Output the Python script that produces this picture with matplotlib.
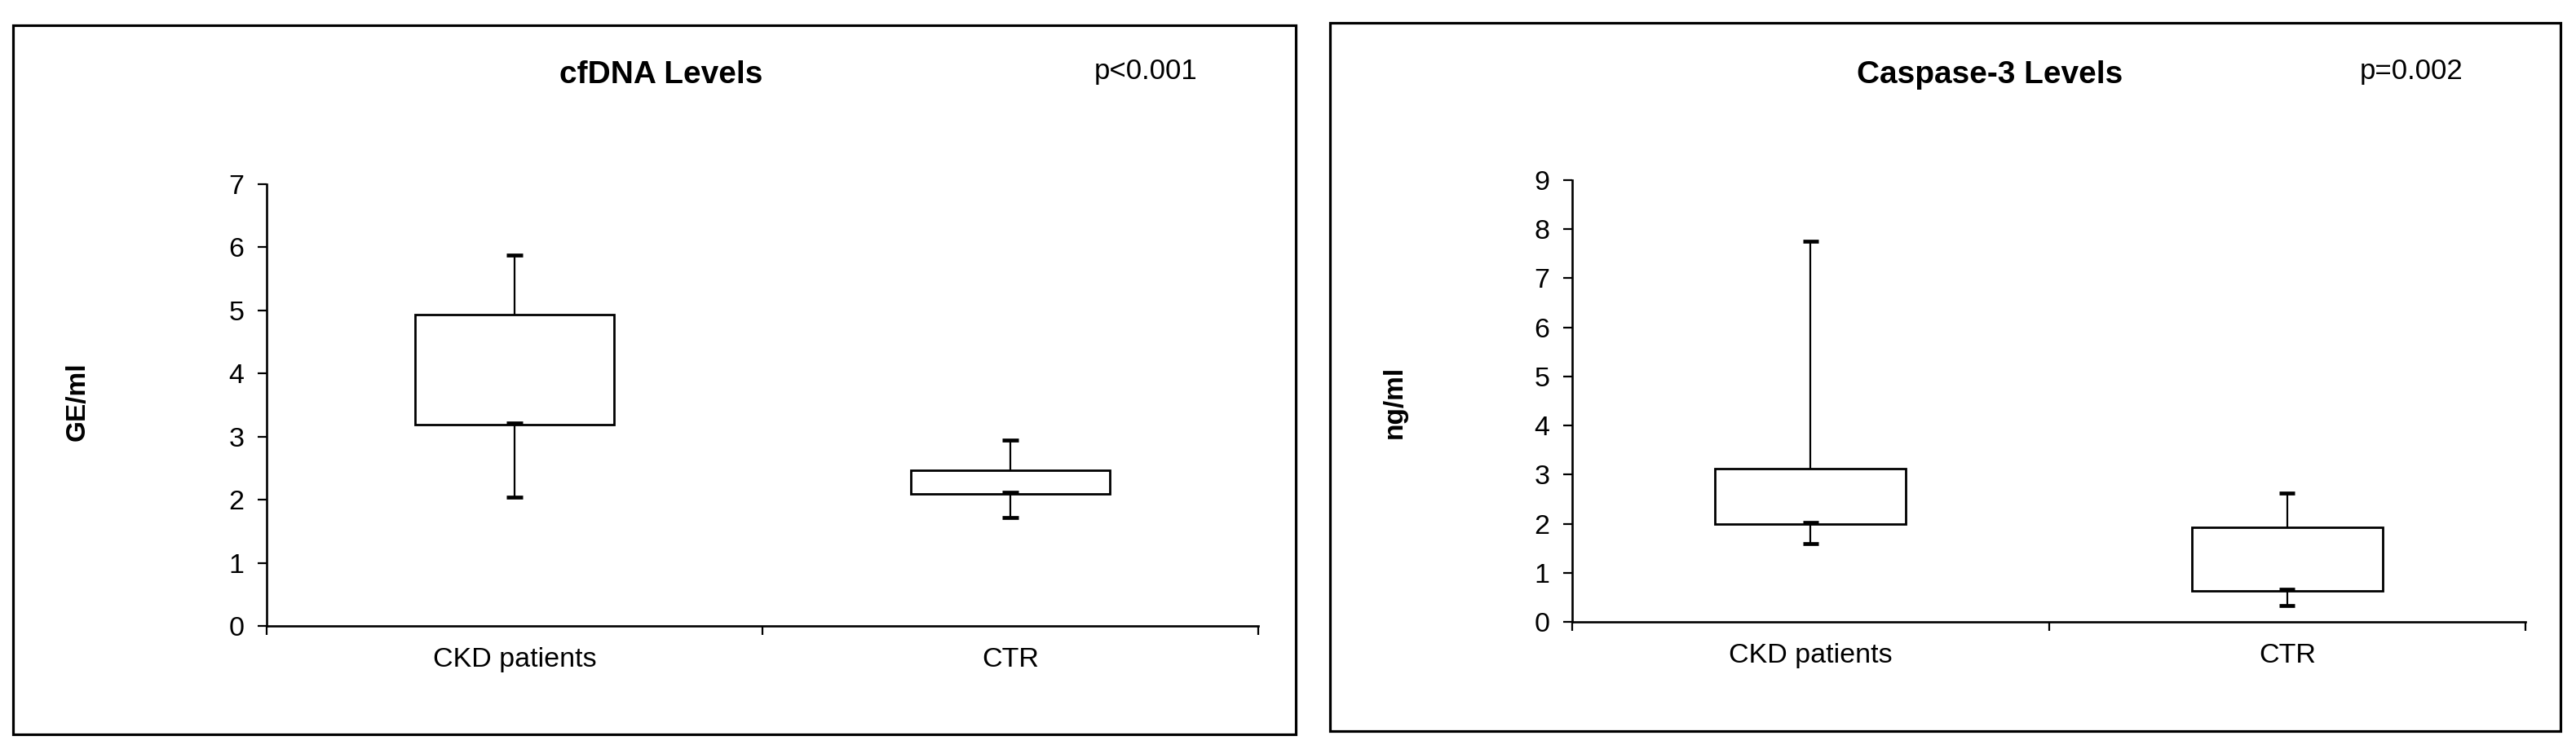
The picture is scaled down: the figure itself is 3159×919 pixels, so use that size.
import matplotlib
matplotlib.use('Agg')
import matplotlib.pyplot as plt
from matplotlib.patches import Rectangle

plt.rcParams['font.family'] = ['Liberation Sans', 'DejaVu Sans']

# data
groups = ['CKD patients', 'CTR']

cf_q1 = [3.19, 2.09]
cf_q3 = [4.94, 2.47]
cf_lo = [2.04, 1.72]
cf_hi = [5.88, 2.94]
cf_med = [3.21, 2.12]

casp_q1 = [2.00, 0.63]
casp_q3 = [3.12, 1.92]
casp_lo = [1.60, 0.33]
casp_hi = [7.75, 2.63]
casp_med = [2.03, 0.67]

fig = plt.figure(figsize=(31.59, 9.19), dpi=100)

# panel frames
for x0, y0, x1, y1 in [(16, 31, 1589, 901), (1631, 28, 3140, 897)]:
    fig.patches.append(Rectangle((x0 / 3159, 1 - y1 / 919), (x1 - x0) / 3159, (y1 - y0) / 919,
                                 transform=fig.transFigure, fill=False, edgecolor='black', linewidth=2.3))


def draw_panel(rect, q1, q3, lo, hi, med, ymax, title, pval, ylab, title_x, p_x, ylab_x):
    ax = fig.add_axes(rect)
    pos = [1, 2]
    heights = [b - a for a, b in zip(q1, q3)]
    ax.bar(pos, heights, bottom=q1, width=0.4, facecolor='white', edgecolor='black', linewidth=2.0, zorder=3)
    # whiskers
    ax.vlines(pos, q3, hi, color='black', linewidth=1.6, zorder=2)
    ax.vlines(pos, lo, q1, color='black', linewidth=1.6, zorder=2)
    # caps
    for p, a, b, m in zip(pos, lo, hi, med):
        ax.hlines([a, b, m], p - 0.016, p + 0.016, color='black', linewidth=3.4, zorder=4)

    ax.set_xlim(0.5, 2.5)
    ax.set_ylim(0, ymax)
    ax.set_yticks(range(0, ymax + 1))
    ax.set_xticks([0.5, 1.5, 2.5])
    ax.set_xticklabels([])
    ax.set_xticks(pos, minor=True)
    ax.set_xticklabels(groups, minor=True)
    ax.tick_params(axis='x', which='minor', length=0, pad=19, labelsize=24.5)
    ax.tick_params(axis='x', which='major', direction='out', length=8, width=1.6)
    ax.tick_params(axis='y', direction='out', length=8, width=1.6, pad=12, labelsize=24.5)
    for s in ['top', 'right']:
        ax.spines[s].set_visible(False)
    ax.spines['left'].set_linewidth(1.9)
    ax.spines['bottom'].set_linewidth(1.9)

    fig.text(title_x / 3159, 1 - 92 / 919, title, ha='center', va='center', fontsize=28, fontweight='bold')
    fig.text(p_x / 3159, 1 - 88 / 919, pval, ha='center', va='center', fontsize=25)
    fig.text(ylab_x / 3159, 1 - 493 / 919, ylab, ha='center', va='center', rotation=90,
             fontsize=24, fontweight='bold')
    return ax


draw_panel([327 / 3159, 1 - 768 / 919, 1216 / 3159, 542 / 919], cf_q1, cf_q3, cf_lo, cf_hi, cf_med, 7,
           'cfDNA Levels', 'p<0.001', 'GE/ml', 811, 1405, 95)
draw_panel([1928 / 3159, 1 - 763 / 919, 1169 / 3159, 542 / 919], casp_q1, casp_q3, casp_lo, casp_hi, casp_med, 9,
           'Caspase-3 Levels', 'p=0.002', 'ng/ml', 2440, 2957, 1710)

plt.savefig('out.png', dpi=100)
